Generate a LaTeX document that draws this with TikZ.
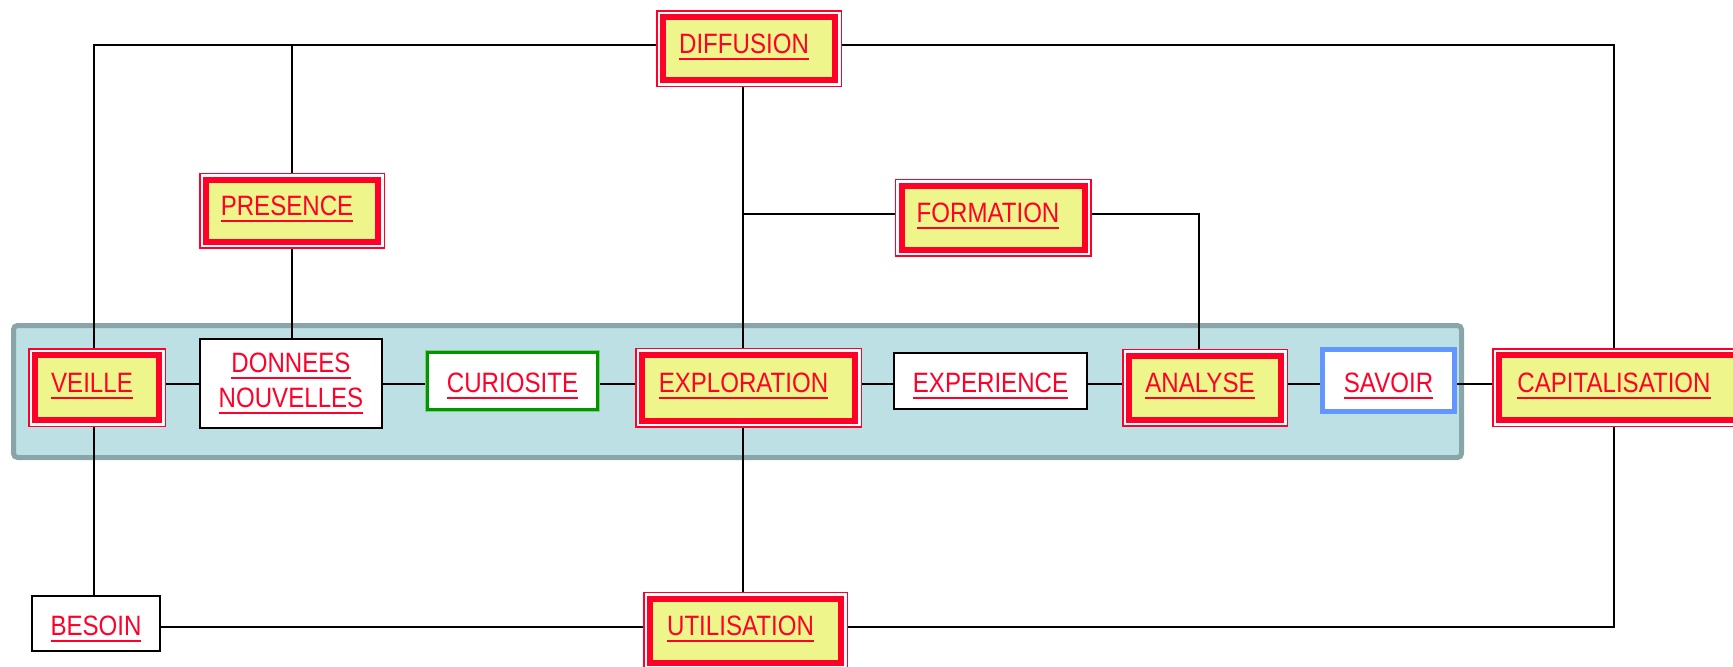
\documentclass[tikz,border=0pt]{standalone}
\usepackage{fontspec}
\setmainfont{Liberation Sans}[FakeStretch=0.86]
\usetikzlibrary{backgrounds}
\definecolor{rougelien}{RGB}{255,0,40}
\definecolor{jaunefond}{RGB}{238,245,138}
\definecolor{bandefond}{RGB}{188,224,227}
\definecolor{bandetrait}{RGB}{138,165,168}
\definecolor{vertcadre}{RGB}{0,150,0}
\definecolor{vertclair}{RGB}{130,205,130}
\definecolor{bleucadre}{RGB}{100,150,255}
\newcommand\lbl[1]{\setbox0\hbox{#1}\raisebox{-1.75pt}{\rlap{\rule[-3pt]{\wd0}{1pt}}\box0}}
\tikzset{
  box/.style={rectangle,inner sep=0pt,text=rougelien,
              font=\fontsize{14}{17.5}\selectfont},
  oneline/.style={box,anchor=mid,text height=10pt,text depth=1.5pt},
  plain/.style={oneline,draw=black,line width=1pt,fill=white},
  curious/.style={oneline,fill=white,draw=vertcadre,line width=1.5pt,
                  preaction={draw=vertclair,line width=2.5pt}},
  knows/.style={oneline,fill=white,draw=bleucadre,line width=2.5pt},
  key/.style={box,anchor=mid,fill=jaunefond,draw=rougelien,line width=3pt,
              preaction={draw=rougelien,line width=7pt},
              preaction={draw=white,line width=5.5pt},
              text height=10pt,text depth=8.5pt,
              execute at end node=\hspace{5pt}},
  band/.style={fill=bandefond,draw=bandetrait,line width=2.5pt,rounded corners=2pt},
  link/.style={draw=black,line width=1pt},
}
\begin{document}
\begin{tikzpicture}[x=0.5pt,y=-0.5pt]
  \useasboundingbox (0,0) rectangle (1733,666);
  % ---------------- top ----------------
  \node[key,minimum width=86pt,minimum height=31.5pt] (diffusion) at (749,45) {\lbl{DIFFUSION}};
  \node[key,minimum width=86pt,minimum height=31pt] (presence) at (292,207) {\lbl{PRESENCE}};
  \node[key,minimum width=91.5pt,minimum height=32pt] (formation) at (993,214) {\lbl{FORMATION}};
  % ---------------- middle row ----------------
  \node[key,minimum width=62pt,minimum height=32.5pt] (veille) at (97,384) {\lbl{VEILLE}};
  \node[box,draw=black,line width=1pt,fill=white,align=center,
        minimum width=91pt,minimum height=44.5pt] (donnees) at (291,383.5)
        {\lbl{DONNEES}\\\lbl{NOUVELLES}};
  \node[curious,minimum width=85pt,minimum height=28.5pt] (curiosite) at (512.5,384) {\lbl{CURIOSITE}};
  \node[key,minimum width=106.5pt,minimum height=33pt] (exploration) at (748.5,384) {\lbl{EXPLORATION}};
  \node[plain,minimum width=96.5pt,minimum height=28pt] (experience) at (990.5,384) {\lbl{EXPERIENCE}};
  \node[key,minimum width=76pt,minimum height=32pt] (analyse) at (1205,384) {\lbl{ANALYSE}};
  \node[knows,minimum width=66pt,minimum height=31pt] (savoir) at (1388.5,384) {\lbl{SAVOIR}};
  \node[key,minimum width=120pt,minimum height=32.5pt] (capitalisation) at (1619,384) {\lbl{CAPITALISATION}};
  % ---------------- bottom ----------------
  \node[plain,minimum width=64pt,minimum height=27.5pt] (besoin) at (96,627) {\lbl{BESOIN}};
  \node[key,minimum width=95.5pt,minimum height=32pt] (utilisation) at (745.5,627) {\lbl{UTILISATION}};
  % axis under DIFFUSION
  \coordinate (axe) at ([xshift=-3pt]diffusion.south);
  % ---------------- band and links ----------------
  \begin{scope}[on background layer]
    \draw[band] (13.5,325.5) rectangle (1461.5,457.5);
    \draw[link] (diffusion.mid west) -| ([xshift=-1.5pt]veille.north);
    \draw[link] (presence.north) -- (presence.north |- diffusion.mid west);
    \draw[link] (diffusion.mid east) -| ([xshift=-2.5pt]capitalisation.north);
    \draw[link] (axe) -- (axe |- exploration.north);
    \draw[link] (formation.mid west) -- (formation.mid west -| axe);
    \draw[link] (formation.mid east) -| ([xshift=-3pt]analyse.north);
    \draw[link] (presence.south) -- (presence.south |- donnees.north);
    \draw[link] (veille.mid east) -- (veille.mid east -| donnees.west);
    \draw[link] (donnees.east |- curiosite.mid west) -- (curiosite.mid west);
    \foreach \a/\b in {curiosite/exploration,exploration/experience,
                       experience/analyse,analyse/savoir,savoir/capitalisation}
      \draw[link] (\a.mid east) -- (\b.mid west);
    \draw[link] ([xshift=-1.5pt]veille.south) -- ([xshift=-1.5pt]veille.south |- besoin.north);
    \draw[link] ([xshift=-3pt]exploration.south) -- ([xshift=-3pt]exploration.south |- utilisation.north);
    \draw[link] (besoin.mid east) -- (utilisation.mid west);
    \draw[link] (utilisation.mid east) -| ([xshift=-2.5pt]capitalisation.south);
  \end{scope}
\end{tikzpicture}
\end{document}
